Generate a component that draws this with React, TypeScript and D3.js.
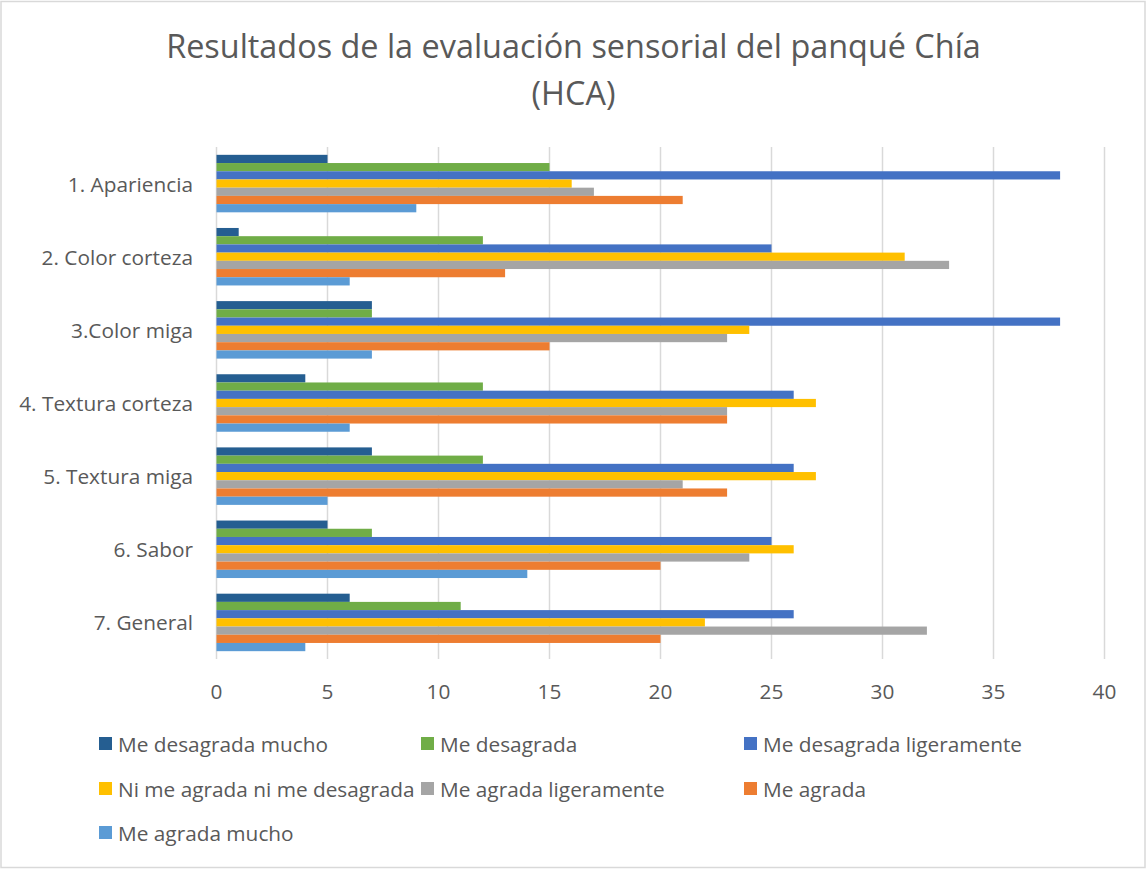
import React from "react";
import * as d3 from "d3";

const categories = [
  "1. Apariencia",
  "2. Color corteza",
  "3.Color miga",
  "4. Textura corteza",
  "5. Textura miga",
  "6. Sabor",
  "7. General",
];

const seriesNames = [
  "Me desagrada mucho",
  "Me desagrada",
  "Me desagrada ligeramente",
  "Ni me agrada ni me desagrada",
  "Me agrada ligeramente",
  "Me agrada",
  "Me agrada mucho",
];

const seriesColors = ["#255E91", "#70AD47", "#4472C4", "#FFC000", "#A5A5A5", "#ED7D31", "#5B9BD5"];

const meDesagradaMucho = [5, 1, 7, 4, 7, 5, 6];
const meDesagrada = [15, 12, 7, 12, 12, 7, 11];
const meDesagradaLigeramente = [38, 25, 38, 26, 26, 25, 26];
const niMeAgrada = [16, 31, 24, 27, 27, 26, 22];
const meAgradaLigeramente = [17, 33, 23, 23, 21, 24, 32];
const meAgrada = [21, 13, 15, 23, 23, 20, 20];
const meAgradaMucho = [9, 6, 7, 6, 5, 14, 4];

const seriesValues = [
  meDesagradaMucho,
  meDesagrada,
  meDesagradaLigeramente,
  niMeAgrada,
  meAgradaLigeramente,
  meAgrada,
  meAgradaMucho,
];

const xTicks = [0, 5, 10, 15, 20, 25, 30, 35, 40];

const FONT = "'Open Sans', sans-serif";
const TEXT = "#595959";

export default function App() {
  const W = 1146;
  const H = 869;
  const x = d3.scaleLinear().domain([0, 40]).range([216.5, 1104.5]);
  const y = d3
    .scaleBand<string>()
    .domain(categories)
    .range([147, 659])
    .paddingInner(0.214)
    .paddingOuter(0.107);
  const ys = d3
    .scaleBand<string>()
    .domain(seriesNames)
    .range([0, y.bandwidth()])
    .padding(0);

  const legendCols = [99, 421, 744];
  const legendRows = [744, 789, 833];

  return (
    <svg
      width={W}
      height={H}
      style={{ position: "absolute", left: 0, top: 0, background: "#fff" }}
      fontFamily={FONT}
    >
      <rect x={1} y={1.5} width={W - 2} height={H - 3} fill="#fff" stroke="#D9D9D9" strokeWidth={1.5} />
      <text x={573.5} y={58} textAnchor="middle" fontSize={32.4} fill={TEXT}>
        Resultados de la evaluación sensorial del panqué Chía
      </text>
      <text x={573.5} y={105} textAnchor="middle" fontSize={32.4} fill={TEXT}>
        (HCA)
      </text>

      {xTicks.map((t) => (
        <g key={t}>
          <line x1={x(t)} x2={x(t)} y1={147} y2={659} stroke="#D9D9D9" strokeWidth={1.5} />
          <text x={x(t)} y={698.5} textAnchor="middle" fontSize={20.8} fill={TEXT}>
            {t}
          </text>
        </g>
      ))}

      {categories.map((c, ci) => (
        <g key={c}>
          <text
            x={193}
            y={(y(c) as number) + y.bandwidth() / 2 + 8}
            textAnchor="end"
            fontSize={20.8}
            fill={TEXT}
          >
            {c}
          </text>
          {seriesNames.map((s, si) => (
            <rect
              key={s}
              x={x(0)}
              y={(y(c) as number) + (ys(s) as number)}
              width={x(seriesValues[si][ci]) - x(0)}
              height={ys.bandwidth()}
              fill={seriesColors[si]}
            />
          ))}
        </g>
      ))}

      {seriesNames.map((s, i) => {
        const col = i % 3;
        const row = Math.floor(i / 3);
        const lx = legendCols[col];
        const ly = legendRows[row];
        return (
          <g key={s}>
            <rect x={lx} y={ly - 7} width={13} height={13} fill={seriesColors[i]} />
            <text x={lx + 19} y={ly + 7.5} fontSize={20.8} fill={TEXT}>
              {s}
            </text>
          </g>
        );
      })}
    </svg>
  );
}
